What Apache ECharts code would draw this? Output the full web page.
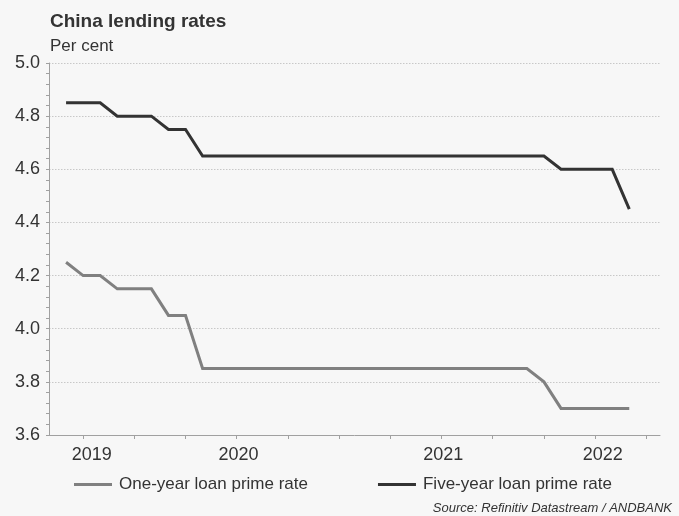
<!DOCTYPE html>
<html>
<head>
<meta charset="utf-8">
<script src="https://cdn.jsdelivr.net/npm/echarts@6/dist/echarts.min.js"></script>
<style>
html,body{margin:0;padding:0;background:#f7f7f7;}
#chart{width:679px;height:516px;}
</style>
</head>
<body>
<div id="chart"></div>
<script>
// Months (first point = Aug 2019, index 1 on the month axis where Jul 2019 = 0)
const months = ['Aug 2019','Sep 2019','Oct 2019','Nov 2019','Dec 2019','Jan 2020','Feb 2020','Mar 2020',
  'Apr 2020','May 2020','Jun 2020','Jul 2020','Aug 2020','Sep 2020','Oct 2020','Nov 2020','Dec 2020',
  'Jan 2021','Feb 2021','Mar 2021','Apr 2021','May 2021','Jun 2021','Jul 2021','Aug 2021','Sep 2021',
  'Oct 2021','Nov 2021','Dec 2021','Jan 2022','Feb 2022','Mar 2022','Apr 2022','May 2022'];
const oneYear = [4.25,4.20,4.20,4.15,4.15,4.15,4.05,4.05,
  3.85,3.85,3.85,3.85,3.85,3.85,3.85,3.85,3.85,
  3.85,3.85,3.85,3.85,3.85,3.85,3.85,3.85,3.85,
  3.85,3.85,3.80,3.70,3.70,3.70,3.70,3.70];
const fiveYear = [4.85,4.85,4.85,4.80,4.80,4.80,4.75,4.75,
  4.65,4.65,4.65,4.65,4.65,4.65,4.65,4.65,4.65,
  4.65,4.65,4.65,4.65,4.65,4.65,4.65,4.65,4.65,
  4.65,4.65,4.65,4.60,4.60,4.60,4.60,4.45];
const seriesNames = ['One-year loan prime rate','Five-year loan prime rate'];
const yearLabels = ['2019','2020','2021','2022'];
const yTicks = [3.6,3.8,4.0,4.2,4.4,4.6,4.8,5.0];

const startMonth = 'Jul 2019';
function monthIndex(m){
  const [mon, yr] = m.split(' ');
  const names = ['Jan','Feb','Mar','Apr','May','Jun','Jul','Aug','Sep','Oct','Nov','Dec'];
  const [m0, y0] = startMonth.split(' ');
  return (parseInt(yr) - parseInt(y0)) * 12 + names.indexOf(mon) - names.indexOf(m0);
}
// quarterly ticks (Sep, Dec, Mar, Jun)
const tickMonths = ['Sep 2019','Dec 2019','Mar 2020','Jun 2020','Sep 2020','Dec 2020','Mar 2021','Jun 2021','Sep 2021','Dec 2021','Mar 2022','Jun 2022'];
const yearLabelPos = [2.5, 11.1, 23.1, 32.45];

const chart = echarts.init(document.getElementById('chart'), null, {renderer:'canvas'});
const font = 'Liberation Sans, Arial, sans-serif';
const textColor = '#333333';
chart.setOption({
  backgroundColor: '#f7f7f7',
  animation: false,
  textStyle: {fontFamily: font},
  title: [
    {text: 'China lending rates', left: 50, top: 12, padding: 0,
     textStyle: {fontSize: 19, fontWeight: 'bold', color: textColor, fontFamily: font}},
    {text: 'Per cent', left: 50, top: 38, padding: 0,
     textStyle: {fontSize: 17, fontWeight: 'normal', color: textColor, fontFamily: font}},
    {text: 'Source: Refinitiv Datastream / ANDBANK', right: 7, top: 502, padding: 0,
     textStyle: {fontSize: 13, fontWeight: 'normal', fontStyle: 'italic', color: textColor, fontFamily: font}}
  ],
  legend: {
    left: 74, top: 476, padding: 0,
    itemWidth: 38, itemHeight: 3, itemGap: 70,
    icon: 'rect',
    data: seriesNames,
    textStyle: {fontSize: 17, color: textColor, fontFamily: font, padding: [0,0,0,2]}
  },
  grid: {left: 49, right: 19, top: 63, bottom: 81, containLabel: false},
  xAxis: {
    type: 'value', min: 0, max: 35.8,
    splitLine: {show: false},
    axisLine: {show: true, lineStyle: {color: '#a0a0a0', width: 1}},
    axisTick: {show: true, length: 4, lineStyle: {color: '#a0a0a0'},
      customValues: tickMonths.map(monthIndex)},
    axisLabel: {show: true, fontSize: 18, color: textColor, margin: 11, fontFamily: font,
      customValues: yearLabelPos,
      formatter: (v) => { const i = yearLabelPos.findIndex(p => Math.abs(p - v) < 1e-6); return i >= 0 ? yearLabels[i] : ''; }}
  },
  yAxis: {
    type: 'value', min: yTicks[0], max: yTicks[yTicks.length-1], interval: 0.2,
    axisLine: {show: true, lineStyle: {color: '#a0a0a0', width: 1}},
    axisTick: {show: true, length: 3, lineStyle: {color: '#a0a0a0'}},
    minorTick: {show: true, splitNumber: 5, length: 3, lineStyle: {color: '#a0a0a0'}},
    splitLine: {show: true, lineStyle: {color: '#c8c8c8', type: [1.5, 1.5], width: 1}},
    axisLabel: {fontSize: 18, color: textColor, margin: 9, fontFamily: font,
      formatter: (v) => v.toFixed(1)}
  },
  series: [
    {name: seriesNames[0], type: 'line', symbol: 'none', color: '#808080',
     lineStyle: {width: 3, color: '#808080', join: 'miter'},
     data: months.map((m, i) => [monthIndex(m), oneYear[i]])},
    {name: seriesNames[1], type: 'line', symbol: 'none', color: '#333333',
     lineStyle: {width: 3, color: '#333333', join: 'miter'},
     data: months.map((m, i) => [monthIndex(m), fiveYear[i]])}
  ]
});
</script>
</body>
</html>
